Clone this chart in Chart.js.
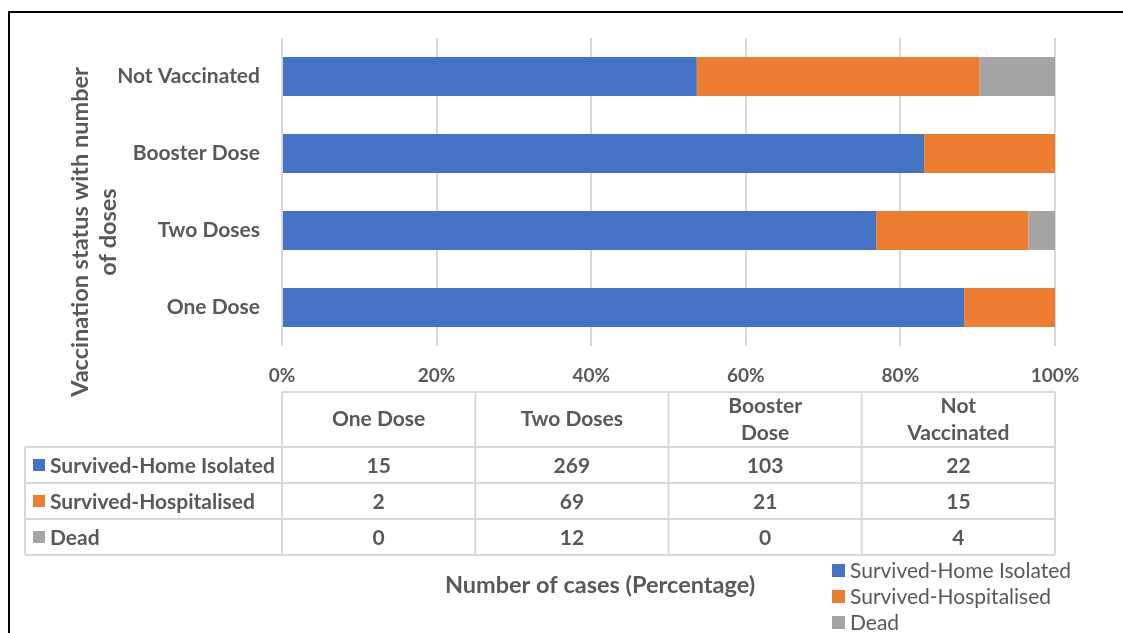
<!DOCTYPE html>
<html>
<head>
<meta charset="utf-8">
<script src="https://cdn.jsdelivr.net/npm/chart.js@4/dist/chart.umd.min.js"></script>
<style>
  html, body { margin: 0; padding: 0; background: #fff; }
  #wrap { width: 1123px; height: 633px; }
</style>
</head>
<body>
<div id="wrap"><canvas id="c" width="1123" height="633"></canvas></div>
<script>
// categories as listed in the data table (Excel draws the first one at the bottom)
var categories = ['One Dose', 'Two Doses', 'Booster Dose', 'Not Vaccinated'];
var headerLines = [['One Dose'], ['Two Doses'], ['Booster', 'Dose'], ['Not', 'Vaccinated']];
var seriesNames = ['Survived-Home Isolated', 'Survived-Hospitalised', 'Dead'];
var homeIsolated = [15, 269, 103, 22];
var hospitalised = [2, 69, 21, 15];
var dead = [0, 12, 0, 4];
var xTicks = [0, 20, 40, 60, 80, 100];

var colors = ['#4472C4', '#ED7D31', '#A5A5A5'];
var counts = [homeIsolated, hospitalised, dead];
var textColor = '#595959';
var font = 'Lato, "Open Sans", sans-serif';

// 100% stacked: share of each category total
var totals = categories.map((c, i) => homeIsolated[i] + hospitalised[i] + dead[i]);
var pct = (arr) => arr.map((v, i) => v / totals[i] * 100);

var tablePlugin = {
    id: 'tablePlugin',
    beforeDraw(chart) {
        const ctx = chart.ctx;
        ctx.save();
        ctx.strokeStyle = '#000';
        ctx.lineWidth = 2;
        ctx.beginPath();
        ctx.moveTo(9, 633);
        ctx.lineTo(9, 12);
        ctx.lineTo(1123, 12);
        ctx.stroke();
        ctx.restore();
    },
    afterDraw(chart) {
        const ctx = chart.ctx;
        const a = chart.chartArea;
        const colW = (a.right - a.left) / categories.length;
        const top = a.bottom + 46;
        const headBottom = top + 55;
        const rowH = 36;
        const tableLeft = 25;
        const tableBottom = headBottom + rowH * 3;

        ctx.save();
        ctx.strokeStyle = '#d9d9d9';
        ctx.lineWidth = 2;
        ctx.beginPath();
        // horizontal lines
        ctx.moveTo(a.left, top); ctx.lineTo(a.right, top);
        for (let r = 0; r <= 3; r++) {
            let y = headBottom + r * rowH;
            ctx.moveTo(tableLeft, y); ctx.lineTo(a.right, y);
        }
        // vertical lines
        for (let c = 0; c <= categories.length; c++) {
            let x = a.left + c * colW;
            ctx.moveTo(x, top); ctx.lineTo(x, tableBottom);
        }
        ctx.moveTo(tableLeft, headBottom); ctx.lineTo(tableLeft, tableBottom);
        ctx.stroke();

        ctx.fillStyle = textColor;
        ctx.textAlign = 'center';
        ctx.textBaseline = 'middle';
        ctx.font = 'bold 21px ' + font;
        // header
        headerLines.forEach((lines, c) => {
            let cx = a.left + (c + 0.5) * colW;
            let cy = (top + headBottom) / 2;
            lines.forEach((t, k) => {
                ctx.fillText(t, cx, cy + (k - (lines.length - 1) / 2) * 27);
            });
        });
        // rows
        counts.forEach((arr, r) => {
            let cy = headBottom + (r + 0.5) * rowH;
            ctx.fillStyle = colors[r];
            ctx.fillRect(33, cy - 6, 12, 12);
            ctx.fillStyle = textColor;
            ctx.textAlign = 'left';
            ctx.fillText(seriesNames[r], 50, cy + 1);
            ctx.textAlign = 'center';
            arr.forEach((v, c) => {
                ctx.fillText(String(v), a.left + (c + 0.5) * colW, cy + 1);
            });
        });

        // axis titles
        ctx.font = 'bold 23.5px ' + font;
        ctx.fillText('Number of cases (Percentage)', 600, 585);
        ctx.save();
        ctx.translate(94, 232);
        ctx.rotate(-Math.PI / 2);
        ctx.fillText('Vaccination status with number', 0, -14);
        ctx.fillText('of doses', 0, 14);
        ctx.restore();

        // legend
        ctx.font = '21px ' + font;
        ctx.textAlign = 'left';
        seriesNames.forEach((n, i) => {
            let cy = 570 + i * 26;
            ctx.fillStyle = colors[i];
            ctx.fillRect(832, cy - 6, 13, 13);
            ctx.fillStyle = textColor;
            ctx.fillText(n, 850, cy + 1);
        });
        ctx.restore();
    }
};

new Chart(document.getElementById('c'), {
    type: 'bar',
    data: {
        labels: categories,
        datasets: [
            { label: seriesNames[0], data: pct(homeIsolated), backgroundColor: colors[0] },
            { label: seriesNames[1], data: pct(hospitalised), backgroundColor: colors[1] },
            { label: seriesNames[2], data: pct(dead), backgroundColor: colors[2] },
        ]
    },
    options: {
        indexAxis: 'y',
        responsive: false,
        animation: false,
        datasets: { bar: { categoryPercentage: 1, barPercentage: 0.506 } },
        layout: { padding: { top: 38, right: 68, left: 0, bottom: 0 } },
        plugins: { legend: { display: false }, tooltip: { enabled: false } },
        scales: {
            x: {
                stacked: true,
                min: 0,
                max: 100,
                afterBuildTicks: (s) => { s.ticks = xTicks.map(v => ({ value: v })); },
                afterFit: (s) => { s.height = 287; },
                grid: { color: '#d9d9d9', lineWidth: 2, drawTicks: false },
                border: { display: false },
                ticks: {
                    padding: 18,
                    color: textColor,
                    font: { family: font, size: 19, weight: 'bold' },
                    callback: (v) => v + '%'
                }
            },
            y: {
                stacked: true,
                reverse: true,
                afterFit: (s) => { s.width = 282; },
                grid: { display: false },
                border: { display: false },
                ticks: {
                    padding: 14,
                    color: textColor,
                    font: { family: font, size: 21, weight: 'bold' }
                }
            }
        }
    },
    plugins: [tablePlugin]
});
</script>
</body>
</html>
